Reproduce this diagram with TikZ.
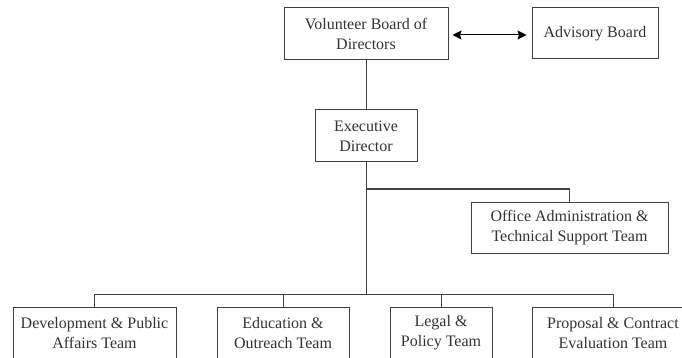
\documentclass[tikz,border=0pt]{standalone}
\usepackage{fontspec}
\setmainfont{Liberation Serif}
\usetikzlibrary{arrows.meta}
\tikzset{
  box/.style={draw=black!75, line width=1pt, text=black!80, inner sep=0pt,
    align=center, font=\fontsize{16}{20}\selectfont, anchor=center},
  conn/.style={draw=black!75, line width=1pt},
  dblarrow/.style={draw=black, line width=1pt,
    {Stealth[length=9pt,width=9pt,inset=1.5pt]}-{Stealth[length=9pt,width=9pt,inset=1.5pt]}},
}
\begin{document}
\begin{tikzpicture}[x=1pt,y=-1pt]
\useasboundingbox (0,0) rectangle (682,358);
\clip (0,0) rectangle (682,358);
\fill[white] (0,0) rectangle (682,358);
\node[box, minimum width=164pt, minimum height=52pt] (board) at (366,34) {Volunteer Board of\\Directors};
\node[box, minimum width=126pt, minimum height=51pt] (adv) at (595,33.5) {Advisory Board};
\node[box, minimum width=102pt, minimum height=52pt] (exec) at (366,136) {Executive\\Director};
\node[box, minimum width=197pt, minimum height=51pt] (office) at (569.5,227.5) {Office Administration \&\\Technical Support Team};
\node[box, minimum width=163pt, minimum height=52pt] (dev) at (94.5,333) {Development \& Public\\Affairs Team};
\node[box, minimum width=132pt, minimum height=52pt] (edu) at (283,333) {Education \&\\Outreach Team};
\node[box, minimum width=102pt, minimum height=52pt] (legal) at (441,333) {Legal \&\\Policy Team};
\node[box, minimum width=162pt, minimum height=52pt] (prop) at (613,333) {Proposal \& Contract\\Evaluation Team};
\coordinate (branch) at (366,189);
\coordinate (bar) at (366,294);
\draw[dblarrow, shorten <=4pt, shorten >=5pt] (board.east |- 0,35) -- (adv.west |- 0,35);
\draw[conn] (board) -- (exec);
\draw[conn] (exec) -- (bar);
\draw[conn] (branch) -| (office);
\draw[conn] (bar) -| (dev);
\draw[conn] (bar) -| (edu);
\draw[conn] (bar) -| (legal);
\draw[conn] (bar) -| (prop);
\end{tikzpicture}
\end{document}
